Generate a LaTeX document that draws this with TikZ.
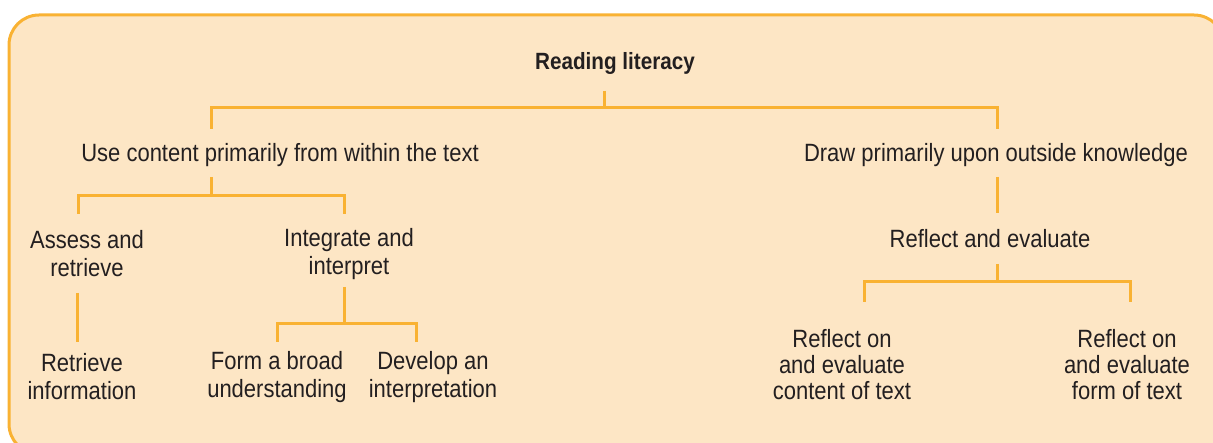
\documentclass[tikz,border=0pt]{standalone}
\usepackage{fontspec}
\setmainfont[FakeStretch=0.88]{Liberation Sans}
\definecolor{frame}{HTML}{F9B233}
\definecolor{bg}{HTML}{FDE6C5}
\definecolor{ink}{HTML}{231F20}
\begin{document}
\begin{tikzpicture}[x=1pt,y=-1pt,
  lbl/.style={inner sep=0pt, align=center, text=ink, font=\fontsize{25}{28}\selectfont},
  lbl3/.style={lbl, font=\fontsize{25}{26}\selectfont},
  conn/.style={draw=frame, line width=3pt, line cap=butt, line join=miter}]
\useasboundingbox (0,0) rectangle (1213,443);
\begin{scope}
\clip (0,0) rectangle (1213,443);
\path[fill=bg, draw=frame, line width=3pt, rounded corners=30pt] (9,15) rectangle (1224,454);
\end{scope}
% texts
\node[lbl, font=\fontsize{23.5}{28}\selectfont\bfseries] (root) at (615,63) {Reading literacy};
\node[lbl] (use) at (280,155) {Use content primarily from within the text};
\node[lbl] (draw) at (996,155) {Draw primarily upon outside knowledge};
\node[lbl] (assess) at (87,254) {Assess and\\retrieve};
\node[lbl] (integ) at (349,254) {Integrate and\\interpret};
\node[lbl] (retr) at (82,377) {Retrieve\\information};
\node[lbl] (broad) at (277,377) {Form a broad\\understanding};
\node[lbl] (devel) at (433,377) {Develop an\\interpretation};
\node[lbl] (refl) at (990,239) {Reflect and evaluate};
\node[lbl3] (rcont) at (842,365) {Reflect on\\and evaluate\\content of text};
\node[lbl3] (rform) at (1127,365) {Reflect on\\and evaluate\\form of text};
% junction coordinates
\coordinate (r0) at (604,91);
\coordinate (r1) at (604,108);
\coordinate (uA) at (211,129);
\coordinate (dA) at (997,129);
\coordinate (u0) at (211,177);
\coordinate (u1) at (211,196);
\coordinate (aT) at (78,214);
\coordinate (iT) at (344,214);
\coordinate (a0) at (77,293);
\coordinate (rT) at (77,342);
\coordinate (i0) at (344,287);
\coordinate (i1) at (344,324);
\coordinate (bT) at (277,342);
\coordinate (dT) at (416,342);
\coordinate (d0) at (997,177);
\coordinate (fT) at (997,213);
\coordinate (f0) at (997,264);
\coordinate (f1) at (997,282);
\coordinate (cT) at (864,302);
\coordinate (mT) at (1130,302);
% connectors
\draw[conn] (r0) -- (r1);
\draw[conn] (uA) |- (r1) -| (dA);
\draw[conn] (u0) -- (u1);
\draw[conn] (aT) |- (u1) -| (iT);
\draw[conn] (a0) -- (rT);
\draw[conn] (i0) -- (i1);
\draw[conn] (bT) |- (i1) -| (dT);
\draw[conn] (d0) -- (fT);
\draw[conn] (f0) -- (f1);
\draw[conn] (cT) |- (f1) -| (mT);
\end{tikzpicture}
\end{document}
